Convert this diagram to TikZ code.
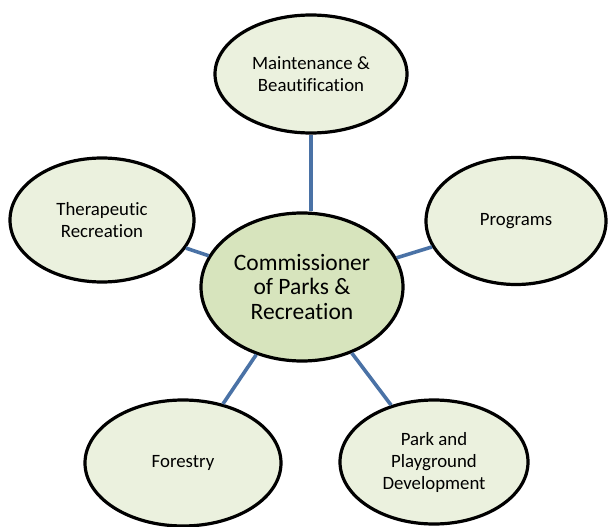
\documentclass[tikz,border=0pt]{standalone}
\usepackage{fontspec}
\setmainfont{Carlito}[Ligatures=NoCommon]
\usetikzlibrary{shapes.geometric}
\definecolor{unitfill}{HTML}{EBF1DE}
\definecolor{headfill}{HTML}{D7E4BD}
\definecolor{linkblue}{HTML}{4A72A6}
\tikzset{
  unit/.style={ellipse,draw=black,line width=3.2pt,fill=unitfill,inner sep=0pt,
    align=center,font=\fontsize{18.8}{22}\selectfont},
  head/.style={unit,fill=headfill,font=\fontsize{23.5}{25}\selectfont},
  link/.style={draw=linkblue,line width=3.6pt}
}
\begin{document}
\begin{tikzpicture}[x=1pt,y=1pt,yscale=-1,xscale=1]
			\useasboundingbox (0,0) rectangle (608,527); %set diagram 608 wide, 527 high
			
			%Ellipse [id:head]
			\node[head,minimum width=202pt,minimum height=148pt] (commissioner) at (302,287) {Commissioner\\of Parks \&\\Recreation};
			%Ellipse [id:maint]
			\node[unit,minimum width=192pt,minimum height=118pt] (maintenance) at (311,74) {Maintenance \&\\Beautification};
			%Ellipse [id:thera]
			\node[unit,minimum width=184pt,minimum height=124pt] (therapeutic) at (102,220) {Therapeutic\\Recreation};
			%Ellipse [id:progr]
			\node[unit,minimum width=180pt,minimum height=127pt] (programs) at (516,221) {Programs};
			%Ellipse [id:fores]
			\node[unit,minimum width=196pt,minimum height=126pt] (forestry) at (183,463) {Forestry};
			%Ellipse [id:parkp]
			\node[unit,minimum width=188pt,minimum height=124pt] (playground) at (434,462) {Park and\\Playground\\Development};
			
			%Straight Lines [id:l1]
			\draw[link] (maintenance.south) -- (maintenance.south |- commissioner.north);
			%Straight Lines [id:l2]
			\draw[link] (commissioner) -- (therapeutic);
			%Straight Lines [id:l3]
			\draw[link] (commissioner) -- (programs);
			%Straight Lines [id:l4]
			\draw[link] (commissioner) -- (forestry);
			%Straight Lines [id:l5]
			\draw[link] (commissioner) -- (playground);
			
		\end{tikzpicture}
\end{document}
